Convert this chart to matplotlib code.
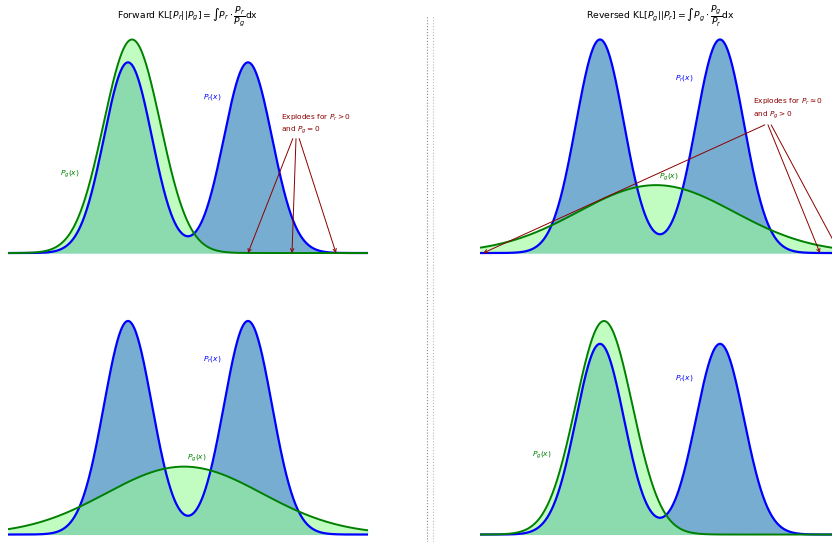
import numpy as np
import matplotlib
matplotlib.use("Agg")
import matplotlib.pyplot as plt
from matplotlib.lines import Line2D

# ---- data ----
x_range = [-3.0, 6.0]
pr_means = [0.0, 3.0]
pr_sigmas = [0.6, 0.6]
pr_amps = [1.0, 1.0]

pg_narrow = dict(mean=0.1, sigma=0.71, amp=1.12)
pg_broad = dict(mean=1.4, sigma=1.95, amp=0.318)

titles = [r'Forward KL$[P_r||P_g] = \int P_r \cdot \dfrac{P_r}{P_g}$dx',
          r'Reversed KL$[P_g||P_r] = \int P_g \cdot \dfrac{P_g}{P_r}$dx']

ann_texts = ['Explodes for $P_r > 0$\nand $P_g = 0$',
             'Explodes for $P_r \\approx 0$\nand $P_g > 0$']
ann_text_pos = (3.83, 0.675)
ann_starts = [(4.12, 0.60), (4.2, 0.60), (4.28, 0.60)]
ann_targets_fwd = [3.0, 4.1, 5.2]
ann_targets_rev = [-2.92, 5.5, 6.0]

x = np.linspace(x_range[0], x_range[1], 600)


def gauss(x, m, s, a):
    return a * np.exp(-(x - m) ** 2 / (2 * s ** 2))


pr = sum(gauss(x, m, s, a) for m, s, a in zip(pr_means, pr_sigmas, pr_amps))
pg_n = gauss(x, pg_narrow['mean'], pg_narrow['sigma'], pg_narrow['amp'])
pg_b = gauss(x, pg_broad['mean'], pg_broad['sigma'], pg_broad['amp'])

W, H = 832, 542
fig = plt.figure(figsize=(W / 100, H / 100), dpi=100)

left_x = [8 / W, 480 / W]
ax_w = 360 / W
ax_h = 234.9 / H
bottoms = [(H - 263.7) / H, (H - 545.2) / H]

panels = {
    (0, 0): ('narrow', 'fwd'),
    (0, 1): ('broad', 'rev'),
    (1, 0): ('broad', None),
    (1, 1): ('narrow', None),
}

fs_lab = 5.4
for (r, c), (kind, ann) in panels.items():
    ax = fig.add_axes([left_x[c], bottoms[r], ax_w, ax_h])
    pg = pg_n if kind == 'narrow' else pg_b
    M = max(pr.max(), pg.max())
    ax.fill_between(x, 0, pr, color='#1f77b4', alpha=0.6, lw=0)
    ax.fill_between(x, 0, pg, color='palegreen', alpha=0.6, lw=0)
    ax.plot(x, pr, color='blue', lw=1.6)
    ax.plot(x, pg, color='green', lw=1.4)
    ax.set_xlim(x_range)
    ax.set_ylim(-0.05 * M, 1.05 * M)
    ax.axis('off')
    ax.text(2.1, 0.82, '$P_r(x)$', color='blue', fontsize=fs_lab, ha='center', va='center')
    if kind == 'narrow':
        ax.text(-1.45, 0.415, '$P_g(x)$', color='green', fontsize=fs_lab, ha='center', va='center')
    else:
        ax.text(1.72, 0.355, '$P_g(x)$', color='green', fontsize=fs_lab, ha='center', va='center')
    if ann is not None:
        idx = 0 if ann == 'fwd' else 1
        targets = ann_targets_fwd if ann == 'fwd' else ann_targets_rev
        ax.text(ann_text_pos[0], ann_text_pos[1], ann_texts[idx], color='darkred',
                fontsize=5.3, ha='left', va='center', linespacing=1.25)
        for st, tx in zip(ann_starts, targets):
            ax.annotate('', xy=(tx, 0.0), xytext=st,
                        arrowprops=dict(arrowstyle='->', color='darkred', lw=0.7,
                                        shrinkA=0, shrinkB=0, mutation_scale=6),
                        annotation_clip=False)
    if r == 0:
        fig.text(left_x[c] + ax_w / 2, 1 - 16.5 / H, titles[c], ha='center', va='center',
                 fontsize=6.7)

# divider lines
fig.add_artist(Line2D([427.3 / W, 427.3 / W], [0, 1 - 15 / H], transform=fig.transFigure,
                      color='#888888', lw=0.8, ls=':'))
fig.add_artist(Line2D([432.7 / W, 432.7 / W], [0, 1 - 15 / H], transform=fig.transFigure,
                      color='#bbbbbb', lw=0.8, ls=':'))

fig.savefig('out.png', dpi=100)
